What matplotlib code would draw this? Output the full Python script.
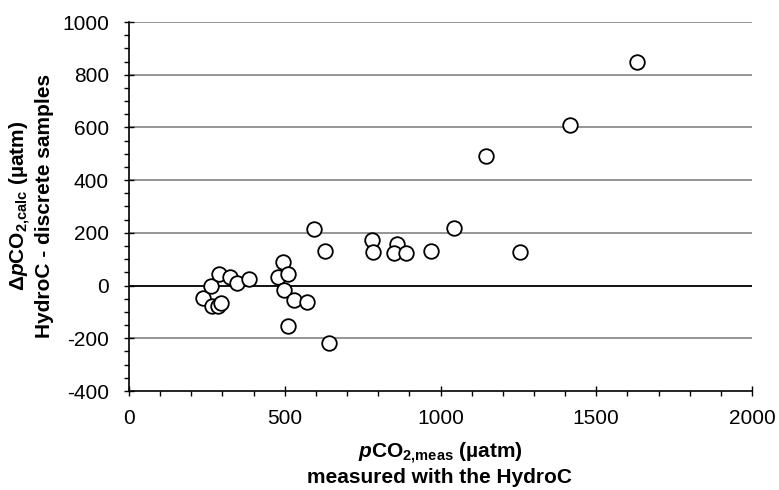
import numpy as np
import matplotlib.pyplot as plt
from matplotlib.ticker import MultipleLocator

# pCO2 measured with HydroC (uatm) and difference HydroC - discrete samples (uatm)
pco2_meas = [238, 262, 265, 289, 285, 294, 324, 348, 385,
             479, 493, 511, 499, 531, 570, 509,
             595, 629, 642, 781, 784, 859, 851, 888, 969,
             1044, 1146, 1255, 1416, 1631]
delta_pco2 = [-49, 0, -78, 44, -78, -66, 31, 10, 25,
              31, 90, 43, -15, -53, -63, -155,
              216, 130, -217, 173, 129, 156, 124, 124, 133,
              220, 493, 129, 611, 850]

xlabel_lines = ['$\\mathit{p}$CO$_{2{,}\\mathrm{meas}}$ (µatm)',
                'measured with the HydroC']
ylabel_lines = ['Δ$\\mathit{p}$CO$_{2{,}\\mathrm{calc}}$ (µatm)',
                'HydroC - discrete samples']

plt.rcParams['font.family'] = ['Liberation Sans', 'DejaVu Sans']
plt.rcParams['axes.unicode_minus'] = False
plt.rcParams['mathtext.fontset'] = 'custom'
plt.rcParams['mathtext.rm'] = 'Liberation Sans:bold'
plt.rcParams['mathtext.it'] = 'Liberation Sans:italic:bold'
plt.rcParams['mathtext.bf'] = 'Liberation Sans:bold'

W, H = 779, 490
fig = plt.figure(figsize=(W / 100, H / 100), dpi=100)
ax = fig.add_axes([129 / W, 1 - 391 / H, 623 / W, 369 / H])

# horizontal gridlines, zero line in black
for yv in np.arange(-200, 1001, 200):
    if yv == 0:
        ax.axhline(yv, color='black', lw=1.3, zorder=1)
    else:
        ax.axhline(yv, color='#8c8c8c', lw=1.3, zorder=1)

ax.plot(pco2_meas, delta_pco2, 'o', ms=10.5, mfc='white', mec='black',
        mew=1.3, zorder=3, clip_on=False)

ax.set_xlim(0, 2000)
ax.set_ylim(-400, 1000)
ax.xaxis.set_major_locator(MultipleLocator(500))
ax.xaxis.set_minor_locator(MultipleLocator(100))
ax.yaxis.set_major_locator(MultipleLocator(200))
ax.yaxis.set_minor_locator(MultipleLocator(50))
ax.tick_params(which='major', direction='inout', length=7, width=1,
               labelsize=15, colors='black')
ax.tick_params(axis='x', which='major', pad=9.8)
ax.tick_params(axis='y', which='major', pad=10.9)
ax.tick_params(which='minor', direction='out', length=3.5, width=1)

for s in ['top', 'right']:
    ax.spines[s].set_visible(False)
for s in ['left', 'bottom']:
    ax.spines[s].set_linewidth(1.2)

# axis titles, two lines each, placed by baseline
for txt, ypx in zip(xlabel_lines, [458, 483]):
    fig.text(440 / W, 1 - ypx / H, txt, fontsize=15, fontweight='bold',
             ha='center', va='baseline')
for txt, xpx in zip(ylabel_lines, [25, 50]):
    fig.text(xpx / W, 1 - 206 / H, txt, fontsize=15, fontweight='bold',
             ha='center', va='baseline', rotation=90, rotation_mode='anchor')

fig.savefig('out.png', dpi=100)
